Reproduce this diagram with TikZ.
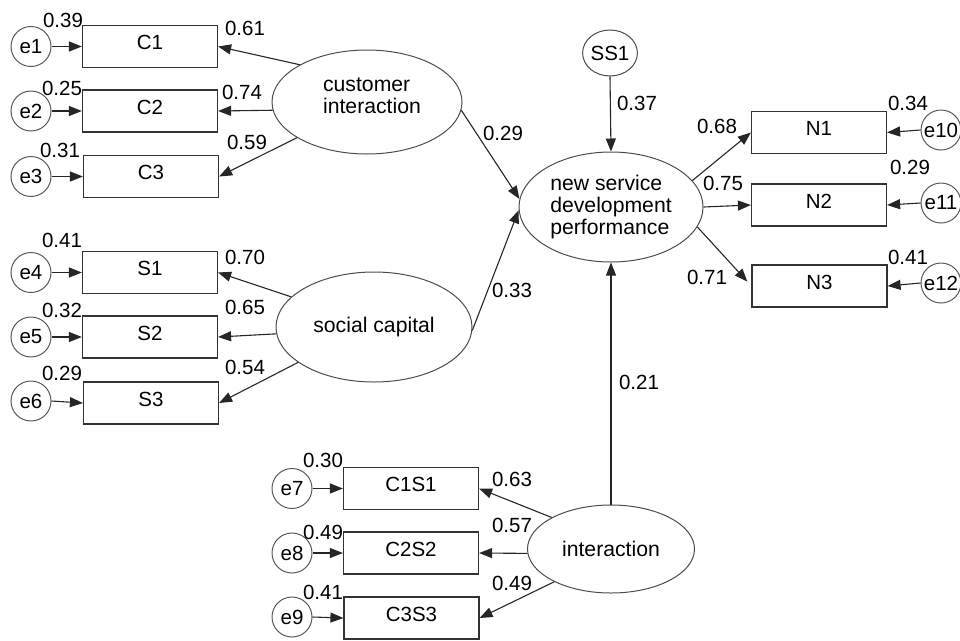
\documentclass[tikz,border=0pt]{standalone}
\usepackage{fontspec}
\setmainfont{Liberation Sans}
\usetikzlibrary{arrows.meta,shapes.geometric}
\begin{document}
\begin{tikzpicture}[x=1pt,y=-1pt,
 every node/.style={font=\fontsize{20.5}{22}\selectfont},
 obs/.style={draw=black!80, line width=1.2pt, rectangle, minimum width=135pt, minimum height=42pt, inner sep=0pt, text height=14pt, text depth=8pt},
 err/.style={draw=black!65, line width=1pt, circle, minimum size=40pt, inner sep=0pt},
 lat/.style={draw=black!70, line width=1pt, ellipse, inner sep=0pt, font=\fontsize{21.2}{21.7}\selectfont},
 num/.style={inner sep=0pt},
 arr/.style={draw=black!85, line width=1.1pt, -{Triangle[length=13pt,width=10pt]}}
]
\useasboundingbox (0,0) rectangle (960,640);

% observed boxes
\node[obs] (c1) at (150,46.5) {C1};
\node[obs] (c2) at (150,111) {C2};
\node[obs] (c3) at (151,176.5) {C3};
\node[obs] (s1) at (150,272.5) {S1};
\node[obs] (s2) at (150,337) {S2};
\node[obs] (s3) at (151,403) {S3};
\node[obs] (c1s1) at (411,488.5) {C1S1};
\node[obs] (c2s2) at (411,553) {C2S2};
\node[obs] (c3s3) at (411.5,618) {C3S3};
\node[obs] (n1) at (819,132.5) {N1};
\node[obs] (n2) at (819,205) {N2};
\node[obs] (n3) at (819.5,286) {N3};

% error circles
\node[err] (e1) at (31,46.5) {e1};
\node[err] (e2) at (31,111) {e2};
\node[err] (e3) at (31,176.5) {e3};
\node[err] (e4) at (31,272.5) {e4};
\node[err] (e5) at (31,337) {e5};
\node[err] (e6) at (31,401) {e6};
\node[err] (e7) at (292,488.5) {e7};
\node[err] (e8) at (292,553) {e8};
\node[err] (e9) at (292,617) {e9};
\node[err] (e10) at (941,130) {e10};
\node[err] (e11) at (941,203) {e11};
\node[err] (e12) at (941,283) {e12};

% latent variables
\node[lat, minimum width=190pt, minimum height=104pt,
      label={[align=left, yshift=6pt, xshift=5pt, font=\fontsize{21.2}{22}\selectfont]center:customer\\interaction}] (ci) at (367,102) {};
\node[lat, minimum width=196pt, minimum height=110pt] (sc) at (374,327) {social capital};
\node[lat, minimum width=184pt, minimum height=110pt, align=left] (ns) at (611,207) {new service\\development\\performance};
\node[lat, minimum width=167pt, minimum height=88pt] (in) at (611,549) {interaction};
\node[lat, minimum width=50pt, minimum height=46pt, font=\fontsize{20.5}{22}\selectfont] (ss) at (610,53) {SS1};

% error arrows
\foreach \e/\b in {e1/c1,e2/c2,e3/c3,e4/s1,e5/s2,e6/s3,e7/c1s1,e8/c2s2,e9/c3s3}
  \draw[arr] (\e.east) -- (\b.west);
\foreach \e/\b in {e10/n1,e11/n2,e12/n3}
  \draw[arr] (\e.west) -- (\b.east);

% loadings
\draw[arr] (ci.151) -- (c1.east);
\draw[arr] (ci.185) -- (c2.east);
\draw[arr] (ci.207) -- (c3.east);
\draw[arr] (sc.160) -- (s1.east);
\draw[arr] (sc.184) -- (s2.east);
\draw[arr] (sc.205) -- (s3.east);
\draw[arr] (in.152) -- (c1s1.east);
\draw[arr] (in.183) -- (c2s2.east);
\draw[arr] (in.210) -- (c3s3.east);
\draw[arr] (ns.18) -- (n1.west);
\draw[arr] (ns.east) -- (n2.west);
\draw[arr, shorten >=6pt] (ns.-13) -- (n3.west);

% structural paths
\draw[arr] (ci.-5) -- (ns.175);
\draw[arr] (sc.-2) -- (ns.182);
\draw[arr] (ss.south) -- (ns.north);
\draw[arr] (in.north) -- (ns.south);

% numbers
\node[num] at (63,20) {0.39};
\node[num] at (62,88) {0.25};
\node[num] at (60,150) {0.31};
\node[num] at (62,240) {0.41};
\node[num] at (62,310) {0.32};
\node[num] at (62,373) {0.29};
\node[num] at (245,28) {0.61};
\node[num] at (242,92) {0.74};
\node[num] at (247,142) {0.59};
\node[num] at (245,257) {0.70};
\node[num] at (245,307) {0.65};
\node[num] at (245,367) {0.54};
\node[num] at (323,460) {0.30};
\node[num] at (323,532) {0.49};
\node[num] at (323,592) {0.41};
\node[num] at (512,479) {0.63};
\node[num] at (512,525) {0.57};
\node[num] at (512,583) {0.49};
\node[num] at (503,133) {0.29};
\node[num] at (512,290) {0.33};
\node[num] at (637,103) {0.37};
\node[num] at (639,382) {0.21};
\node[num] at (717,126) {0.68};
\node[num] at (723,183) {0.75};
\node[num] at (707,277) {0.71};
\node[num] at (908,103) {0.34};
\node[num] at (910,167) {0.29};
\node[num] at (908,257) {0.41};
\end{tikzpicture}
\end{document}
